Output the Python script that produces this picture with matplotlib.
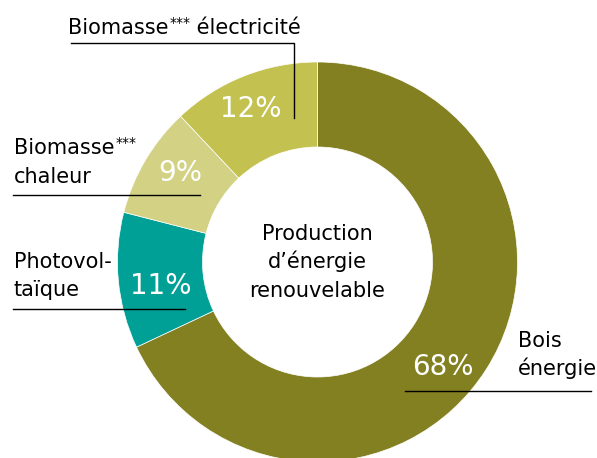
import matplotlib
matplotlib.use("Agg")
import matplotlib.pyplot as plt

plt.rcParams['font.family'] = ['DejaVu Sans']

# Data (clockwise from 12 o'clock)
labels = ['Bois énergie', 'Photovoltaïque', 'Biomasse chaleur', 'Biomasse électricité']
shares = [68, 11, 9, 12]
colors = ['#838022', '#00a096', '#d2d184', '#c3c250']
pct_text = ['68%', '11%', '9%', '12%']

W, H = 597, 458
fig = plt.figure(figsize=(W / 100, H / 100), dpi=100)
ax = fig.add_axes([0, 0, 1, 1])

cx, cy = 317.5, H - 262
R, r = 200, 115

ax.pie(shares, colors=colors, startangle=90, counterclock=False,
       center=(cx, cy), radius=R, frame=True,
       wedgeprops=dict(width=R - r, edgecolor='white', linewidth=0.5))
ax.set_xlim(0, W)
ax.set_ylim(0, H)
ax.set_aspect('equal')
ax.axis('off')


def y(p):
    # pixel row -> data y
    return H - p


# percentage labels
pct_pos = [(443, 367), (161, 286), (180, 173), (251, 109)]
for txt, (px, py) in zip(pct_text, pct_pos):
    ax.text(px, y(py), txt, color='white', fontsize=20, ha='center', va='center')

lab_fs = 15
line_kw = dict(color='black', linewidth=1.0)
renderer = fig.canvas.get_renderer()


def sup_label(x0, base, word, after=''):
    t = ax.text(x0, y(base), word, fontsize=lab_fs, ha='left', va='baseline')
    bb = t.get_window_extent(renderer)
    s = ax.text(bb.x1 + 1, y(base) + 7, '***', fontsize=10, ha='left', va='baseline')
    if after:
        sb = s.get_window_extent(renderer)
        ax.text(sb.x1, y(base), after, fontsize=lab_fs, ha='left', va='baseline')


# Biomasse électricité
sup_label(68, 34, 'Biomasse', ' électricité')
ax.plot([71, 294, 294], [y(43), y(43), y(118)], **line_kw)

# Biomasse chaleur
sup_label(14, 154, 'Biomasse')
ax.text(14, y(183), 'chaleur', fontsize=lab_fs, ha='left', va='baseline')
ax.plot([13, 200], [y(195), y(195)], **line_kw)

# Photovoltaïque
ax.text(14, y(268), 'Photovol-', fontsize=lab_fs, ha='left', va='baseline')
ax.text(14, y(296), 'taïque', fontsize=lab_fs, ha='left', va='baseline')
ax.plot([13, 185], [y(309), y(309)], **line_kw)

# Bois énergie
ax.text(518, y(347), 'Bois', fontsize=lab_fs, ha='left', va='baseline')
ax.text(518, y(375), 'énergie', fontsize=lab_fs, ha='left', va='baseline')
ax.plot([405, 591], [y(391), y(391)], **line_kw)

# centre title
for txt, base in [('Production', 240), ('d\u2019énergie', 268), ('renouvelable', 297)]:
    ax.text(cx, y(base), txt, fontsize=lab_fs, ha='center', va='baseline')

fig.savefig('out.png', dpi=100)
